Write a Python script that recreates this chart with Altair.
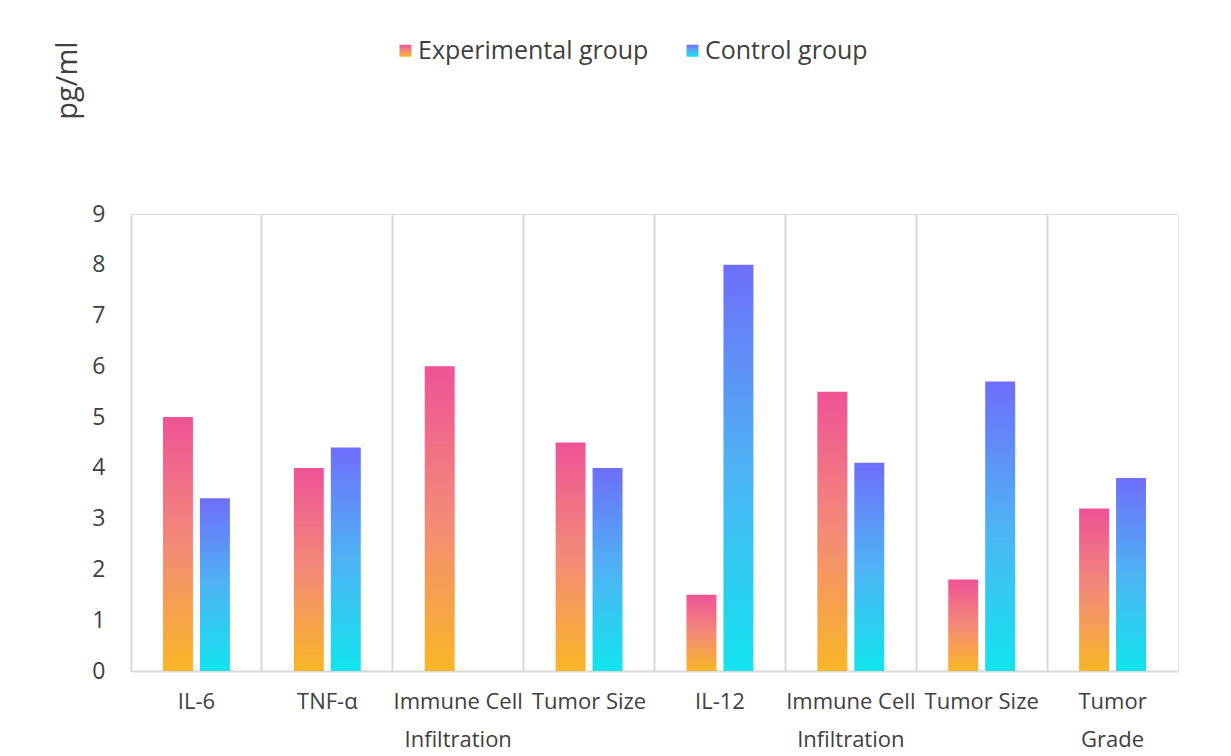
import json
import altair as alt
import pandas as pd

# ---- data ----
categories = ["IL-6", "TNF-α", "Immune Cell Infiltration", "Tumor Size",
              "IL-12", "Immune Cell Infiltration", "Tumor Size", "Tumor Grade"]
label_lines = ["IL-6", "TNF-α", ["Immune Cell", "Infiltration"], "Tumor Size",
               "IL-12", ["Immune Cell", "Infiltration"], "Tumor Size", ["Tumor", "Grade"]]
experimental = [5.0, 4.0, 6.0, 4.5, 1.5, 5.5, 1.8, 3.2]
control = [3.4, 4.4, None, 4.0, 8.0, 4.1, 5.7, 3.8]
series = ["Experimental group", "Control group"]
y_ticks = list(range(0, 10))

rows = []
for i, cat in enumerate(categories):
    for s, vals in zip(series, [experimental, control]):
        if vals[i] is not None:
            rows.append({"key": str(i), "category": cat, "series": s, "value": vals[i]})
df = pd.DataFrame(rows)

exp_grad = ("{gradient:'linear',x1:0,y1:1,x2:0,y2:0,"
            "stops:[{offset:0,color:'#F9B627'},{offset:0.5,color:'#F38A78'},{offset:1,color:'#EE5396'}]}")
ctl_grad = ("{gradient:'linear',x1:0,y1:1,x2:0,y2:0,"
            "stops:[{offset:0,color:'#12E4EE'},{offset:0.5,color:'#4EB3F4'},{offset:1,color:'#6E6EFB'}]}")

TXT = "#404040"
FONT = "Open Sans"
GRID = "#d9d9d9"

label_expr = json.dumps(label_lines, ensure_ascii=False) + "[toNumber(datum.value)]"

chart = alt.Chart(df).mark_bar().encode(
    x=alt.X("key:N", sort=[str(i) for i in range(len(categories))],
            scale=alt.Scale(paddingInner=0, paddingOuter=0),
            axis=alt.Axis(title=None, labelExpr=label_expr, labelAngle=0,
                          labelFontSize=22, labelColor=TXT, labelFont=FONT,
                          labelPadding=20, labelLineHeight=38, labelBaseline="top",
                          ticks=False, tickSize=0, domain=True, domainColor=GRID, domainWidth=2,
                          grid=True, gridColor=GRID, gridWidth=2, bandPosition=0)),
    xOffset=alt.XOffset("series:N", sort=series,
                        scale=alt.Scale(domain=series, paddingInner=0.189, paddingOuter=0.865)),
    y=alt.Y("value:Q", scale=alt.Scale(domain=[0, 9], nice=False),
            axis=alt.Axis(values=y_ticks, title="pg/ml", grid=False, domain=False,
                          ticks=False, tickSize=0, labelPadding=26,
                          labelFontSize=23, labelColor=TXT, labelFont=FONT,
                          titleFontSize=29, titleFont=FONT, titleColor=TXT, titleFontWeight="normal",
                          titleX=-64, titleY=-134, titleAngle=270, titleAlign="center",
                          titleBaseline="middle")),
    color=alt.Color("series:N", sort=series,
                    scale=alt.Scale(domain=series, range=[{"expr": exp_grad}, {"expr": ctl_grad}]),
                    legend=alt.Legend(title=None, orient="none", direction="horizontal",
                                      legendX=262, legendY=-176, padding=0,
                                      symbolType="square", symbolSize=144, symbolStrokeWidth=0,
                                      labelFontSize=25, labelFont=FONT, labelColor=TXT,
                                      labelLimit=0, labelOffset=0, columnPadding=31)),
).properties(
    width=1047, height=457,
    autosize=alt.AutoSizeParams(type="none"),
    padding={"left": 123, "top": 206, "right": 45, "bottom": 85},
).configure_view(
    stroke=GRID, strokeWidth=2
).configure(background="white")

chart.save("out.html", embed_options={"renderer": "svg", "actions": False})
